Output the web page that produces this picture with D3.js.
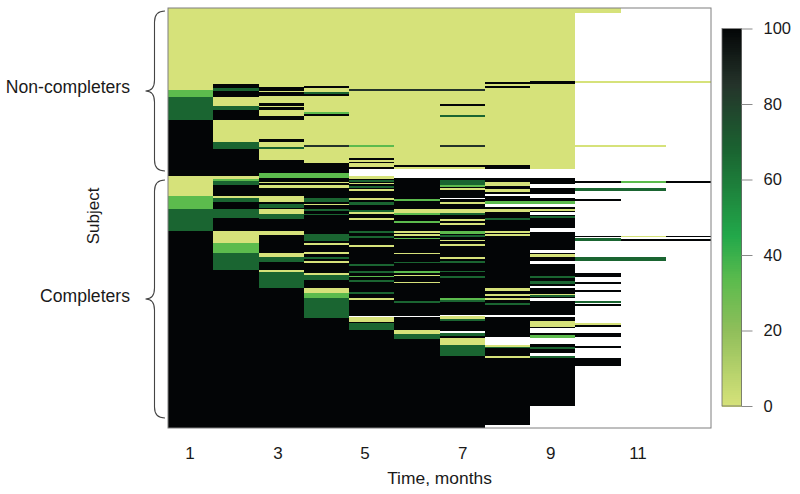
<!DOCTYPE html>
<html><head><meta charset="utf-8">
<script src="https://cdn.jsdelivr.net/npm/d3@7"></script>
<style>html,body{margin:0;background:#fff}svg{display:block}text{font-family:"Liberation Sans",Arial,sans-serif;fill:#1a1a1a}</style>
</head><body><svg id="c" width="800" height="494"></svg>
<script>
const months=[1,2,3,4,5,6,7,8,9,10,11,12];
const tickMonths=[1,3,5,7,9,11];
const tickPlaces=[190,278,365,462.7,550.7,638];
const legendTicks=[0,20,40,60,80,100];
// Each month: bands of subjects [from,to,value]; later bands overpaint earlier ones; null = no visit.
const month1=[[0,81.5,0],[81.5,89,33],[89,112,67],[112,168,100],[168,188,0],[188,201,33],[201,223,67],[223,420,100]];
const month2=[[0,75.5,0],[75.5,80,100],[80,83,67],[83,89,100],[89,97.5,0],[97.5,102,67],[102,112,100],[112,134,0],[134,141,67],[141,168,100],[168,171,0],[171,173,33],[173,177,67],[177,188,100],[188,190,0],[190,194,67],[194,201,100],[201,210,67],[210,223,100],[223,235,0],[235,245,33],[245,262,67],[262,420,100]];
const month3=[[0,79,0],[79,83,100],[83,84,0],[84,88,100],[88,95,0],[95,98,100],[98,99,0],[99,102,100],[102,108,0],[108,112,100],[112,131,0],[131,134,100],[134,139,0],[139,141,67],[141,152,0],[152,165,100],[165,170,33],[170,420,100],[173.5,175,0],[177,179.5,0],[188,193.5,0],[195.5,199.5,67],[201,206,0],[206,211,67],[223,227,0],[245,249,0],[249,254,67],[262,264,0],[264,280,67]];
const month4=[[0,78,0],[78,79.5,100],[79.5,84,0],[84,86,67],[86,88,100],[88,104,0],[104,106,33],[106,108,100],[108,137,0],[137,139,85],[139,155,0],[155,165,100],[165,170,33],[170,420,100],[173.5,175,0],[177,180,0],[190,194,67],[195.5,197,0],[201,203,67],[205.5,207,67],[226,233,67],[235,237,0],[244,246,0],[249,251,67],[253,255,0],[264.5,267,0],[267,272,67],[280,285,0],[285,290,33],[290,310,67]];
const month5=[[0,81,0],[81,83,85],[83,137,0],[137,139,33],[139,150,0],[150,152,100],[152,153.5,0],[153.5,155,100],[155,159,0],[159,161,100],[161,168,null],[168,171,0],[171,420,100],[172,174,67],[175,176,0],[178,180,67],[181,183,0],[190,192,0],[194,197,67],[202,204,67],[204,206,0],[210,212,0],[222.5,224.5,67],[228,230,67],[237,238.5,0],[255.5,257.5,67],[263,264.5,67],[267.5,269,33],[272,273.5,67],[284,286,67],[289.5,291.5,0],[307.5,309,null],[309,313.5,0],[315,322,67]];
const month6=[[0,81,0],[81,83,85],[83,157,0],[157,158.5,100],[158.5,161,0],[161,169.5,null],[169.5,420,100],[190.5,193,33],[201,205,0],[205,207,33],[212.5,215,33],[222.5,224.5,0],[226,228,0],[229.5,231,33],[244.5,246,0],[253.5,255,67],[263,264.5,33],[266.5,268,0],[273.5,275,0],[293,294.5,67],[307.5,309,null],[322,326,0],[326,331,67]];
const month7=[[0,81,0],[81,83,85],[83,95.5,0],[95.5,97.5,100],[97.5,106.5,0],[106.5,108.5,67],[108.5,137,0],[137,139,85],[139,157,0],[157,158.5,100],[158.5,161,0],[161,169.5,null],[169.5,420,100],[172.3,176.7,67],[176.7,179,33],[180,182.3,0],[190,191.3,null],[194,196,0],[200.7,204.7,0],[204.7,207,67],[211,213.3,0],[215,217.3,0],[222.7,226,33],[226.7,229,67],[231.7,233.3,0],[235.7,238,0],[249,251,0],[253,255,67],[262.5,264,67],[268,269.5,67],[289.5,291.5,33],[292,294,67],[306.7,308,null],[308,311.3,0],[311.3,312.7,67],[322.7,325.3,null],[325.3,328,67],[330,336.7,0],[336.7,347.7,67]];
const month8=[[0,73.5,0],[73.5,75.5,100],[75.5,77.5,0],[77.5,79.5,100],[79.5,156.5,0],[156.5,161,100],[161,169.5,null],[169.5,420,100],[174,178.3,0],[180.7,184,0],[186,188,null],[193.3,195.7,33],[195.7,198.7,null],[200.7,204,0],[209.7,211.7,67],[222.7,224.7,0],[226,228.3,0],[280,282.5,0],[286,288,0],[290,292,0],[294.7,296.7,67],[306.7,308.5,null],[329.3,336.7,null],[336.7,338.7,0],[338.7,340,67],[347.7,349.7,0],[416.5,420,null]];
const month9=[[0,72.5,0],[72.5,75.5,100],[75.5,161,0],[161,169.5,null],[169.5,397.5,100],[175.7,180,null],[185.7,190,null],[193.3,195.7,33],[195.7,198.7,null],[200.7,203,0],[204,206.7,null],[208,210,67],[220,224,null],[242,244.5,null],[246,248.5,0],[253,256,null],[267.5,269.5,67],[273,275.5,67],[277.5,279.5,null],[286,289,0],[287,289,67],[289.7,293,null],[306.7,309,null],[313.3,318.7,0],[320,325.3,null],[327.3,330.3,33],[330.3,336.3,null],[339,340.5,67],[345.3,347.7,null],[348,350.3,67],[397.5,420,null]];
const month10=[[0,5,0],[73,75,0],[137,138.7,0],[173,174.7,100],[180.3,182.7,67],[191.3,193,100],[227.7,229.3,100],[230.3,233,67],[249.3,252.7,67],[265.3,269.3,100],[274.3,276.3,100],[282,284.3,100],[293,294.7,67],[296,298.3,100],[314.7,317,0],[317,318.7,100],[325.3,328.7,100],[338,339.7,100],[350.3,358,100]];
const month11=[[73,75,0],[137,138.7,0],[173,174.7,33],[180.3,182.7,67],[227.7,229.3,0],[231,233,100],[249.3,252.7,67]];
const month12=[[73,75,0],[173,174.7,100],[227.7,229.3,100],[231,233,100]];
const allMonths=[month1,month2,month3,month4,month5,month6,month7,month8,month9,month10,month11,month12];

const svg=d3.select("#c");
const x=d3.scaleBand().domain(months).range([168,711]).paddingInner(0);
const y=d3.scaleLinear().domain([0,420]).range([8,428]);
const color=d3.scaleLinear().domain([0,20,33,45,67,85,100])
  .range(["#d6e27a","#8fbe5a","#5cbb4d","#22a84a","#1a6531","#24332a","#030506"]);
const fill=v=>v===null?"#fff":color(v);

months.forEach((m,i)=>{
  svg.append("g").attr("shape-rendering","crispEdges").selectAll("rect").data(allMonths[i]).join("rect")
    .attr("x",x(m)).attr("width",x.bandwidth())
    .attr("y",d=>y(d[0])).attr("height",d=>y(d[1])-y(d[0]))
    .attr("fill",d=>fill(d[2]));
});
svg.append("rect").attr("x",168).attr("y",8).attr("width",543).attr("height",420)
  .attr("fill","none").attr("stroke","#7f7f7f").attr("stroke-width",1);

// x labels
const xt=d3.scaleOrdinal().domain(tickMonths).range(tickPlaces);
svg.append("g").selectAll("text").data(tickMonths).join("text")
  .attr("x",d=>xt(d)).attr("y",459).attr("text-anchor","middle").attr("font-size",17).text(d=>d);
svg.append("text").attr("x",439.5).attr("y",484).attr("text-anchor","middle").attr("font-size",17.4).text("Time, months");
svg.append("text").attr("transform","translate(99,216) rotate(-90)").attr("text-anchor","middle").attr("font-size",17).text("Subject");
svg.append("text").attr("x",130).attr("y",93).attr("text-anchor","end").attr("font-size",17.6).text("Non-completers");
svg.append("text").attr("x",130).attr("y",302).attr("text-anchor","end").attr("font-size",17.6).text("Completers");

// braces
function brace(y0,ym,y1){
  const p=d3.path(),xe=165,xs=154.5,xt=145.5,r=11;
  p.moveTo(xe,y0);p.quadraticCurveTo(xs,y0,xs,y0+r);p.lineTo(xs,ym-r);
  p.quadraticCurveTo(xs,ym,xt,ym);p.quadraticCurveTo(xs,ym,xs,ym+r);
  p.lineTo(xs,y1-r);p.quadraticCurveTo(xs,y1,xe,y1);
  return p.toString();
}
[[11,91,171],[180,299,418]].forEach(b=>svg.append("path").attr("d",brace(...b)).attr("fill","none").attr("stroke","#444").attr("stroke-width",1.1));

// legend
const ly=d3.scaleLinear().domain([0,100]).range([406,28.5]);
svg.append("g").attr("shape-rendering","crispEdges").selectAll("rect").data(d3.range(0,100,0.5)).join("rect")
  .attr("x",722).attr("width",19.5).attr("y",d=>ly(d+0.5)).attr("height",d=>ly(d)-ly(d+0.5)+0.5).attr("fill",d=>color(d));
svg.append("rect").attr("x",722).attr("y",28.5).attr("width",19.5).attr("height",377.5).attr("fill","none").attr("stroke","#6a6a6a").attr("stroke-width",0.8);
const la=svg.append("g").attr("transform","translate(741.5,0)").call(d3.axisRight(ly).tickValues(legendTicks).tickSize(11).tickPadding(11));
la.select(".domain").remove();
la.selectAll("line").attr("stroke","#8a8a8a").attr("stroke-width",1);
la.selectAll("text").attr("font-size",16.5).style("font-family",'"Liberation Sans",Arial,sans-serif').attr("fill","#1a1a1a");
</script></body></html>
